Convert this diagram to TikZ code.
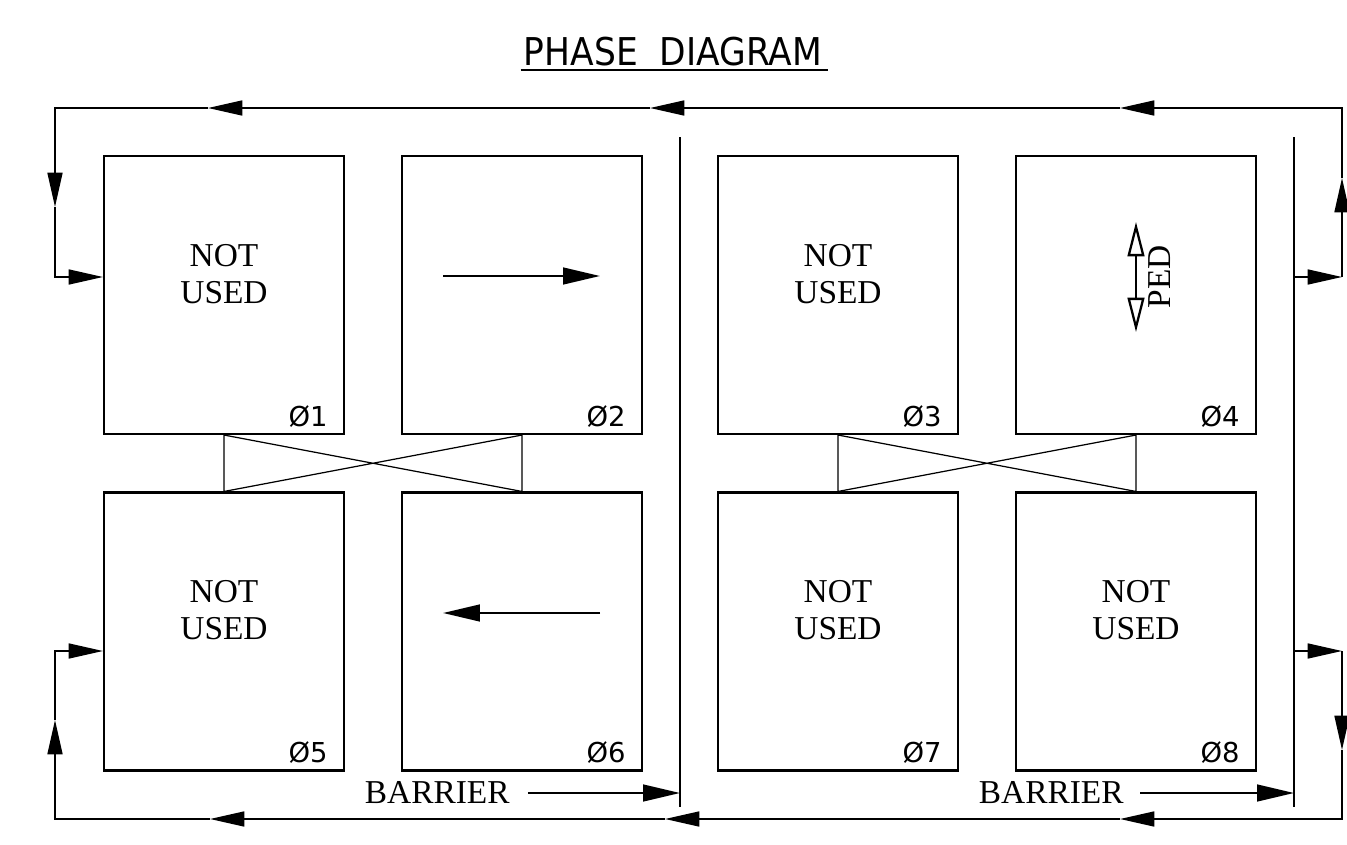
\documentclass[tikz,border=0pt]{standalone}
\usepackage{fontspec}
\setmainfont{Liberation Serif}
\newfontfamily\phfont{DejaVu Sans}
\newfontfamily\titlefont[FakeStretch=0.9]{DejaVu Sans}
\usetikzlibrary{arrows.meta}
\tikzset{
    phase/.style={rectangle, draw, line width=1.2pt, minimum width=4.8cm, minimum height=5.56cm, inner sep=0pt},
    used/.style={anchor=north, align=center, inner sep=0pt, font=\fontsize{19}{21}\selectfont},
    num/.style={anchor=base east, inner sep=0pt, font=\phfont\fontsize{15.6}{18}\selectfont},
    flow/.style={-{Triangle[length=19.5pt, width=8.5pt]}, line width=1pt},
    move/.style={-{Triangle[length=21pt, width=9.5pt]}, line width=1.3pt},
    ped/.style={{Triangle[open, length=19.5pt, width=9.5pt]}-{Triangle[open, length=19.5pt, width=9.5pt]}, line width=1.3pt},
}

\begin{document}
\begin{tikzpicture}[x=0.02cm, y=-0.02cm]
        \useasboundingbox (0, 0) rectangle (1347, 845);

        \node[anchor=base, inner sep=0pt, font=\titlefont\fontsize{21.8}{24}\selectfont] at (673, 65) (title) {PHASE\ \ DIAGRAM};
        \draw[line width=1.4pt] ([yshift=-0.1cm, xshift=-0.06cm]title.base west) -- ([yshift=-0.1cm, xshift=0.12cm]title.base east);

        % phase boxes
        \node[phase] at (224, 295)   (p1) {};
        \node[phase] at (522, 295)   (p2) {};
        \node[phase] at (838, 295)   (p3) {};
        \node[phase] at (1136, 295)  (p4) {};
        \node[phase] at (224, 631.5) (p5) {};
        \node[phase] at (522, 631.5) (p6) {};
        \node[phase] at (838, 631.5) (p7) {};
        \node[phase] at (1136, 631.5) (p8) {};

        \node[used] at (224, 244)  (u1) {NOT\\USED};
        \node[used] at (838, 244)  (u3) {NOT\\USED};
        \node[used] at (224, 580)  (u5) {NOT\\USED};
        \node[used] at (838, 580)  (u7) {NOT\\USED};
        \node[used] at (1136, 580) (u8) {NOT\\USED};

        \node[num] at ([xshift=-0.34cm, yshift=0.18cm]p1.south east) (n1) {Ø1};
        \node[num] at ([xshift=-0.34cm, yshift=0.18cm]p2.south east) (n2) {Ø2};
        \node[num] at ([xshift=-0.34cm, yshift=0.18cm]p3.south east) (n3) {Ø3};
        \node[num] at ([xshift=-0.34cm, yshift=0.18cm]p4.south east) (n4) {Ø4};
        \node[num] at ([xshift=-0.34cm, yshift=0.18cm]p5.south east) (n5) {Ø5};
        \node[num] at ([xshift=-0.34cm, yshift=0.18cm]p6.south east) (n6) {Ø6};
        \node[num] at ([xshift=-0.34cm, yshift=0.18cm]p7.south east) (n7) {Ø7};
        \node[num] at ([xshift=-0.34cm, yshift=0.18cm]p8.south east) (n8) {Ø8};

        % movements
        \draw[move] ([shift={(-79,-19)}]p2.center) -- ([shift={(78,-19)}]p2.center);
        \draw[move] ([shift={(78,-18.5)}]p6.center) -- ([shift={(-79,-18.5)}]p6.center);
        \draw[ped] ([shift={(0,-73)}]p4.center) -- ([shift={(0,37)}]p4.center);
        \node[rotate=90, inner sep=0pt, font=\fontsize{19}{21}\selectfont] at ([shift={(24,-18)}]p4.center) (pd) {PED};

        % overlaps
        \draw[line width=0.7pt] (p1.south) -- (p5.north) -- (p2.south) -- (p6.north) -- (p1.south);
        \draw[line width=0.7pt] (p3.south) -- (p7.north) -- (p4.south) -- (p8.north) -- (p3.south);

        % barriers
        \coordinate (b1t) at (680, 137);
        \coordinate (b1b) at (680, 807);
        \coordinate (b2t) at (1294, 137);
        \coordinate (b2b) at (1294, 807);
        \draw[line width=1pt] (b1t) -- (b1b);
        \draw[line width=1pt] (b2t) -- (b2b);

        \node[anchor=east, inner sep=0pt, font=\fontsize{19}{21}\selectfont] at (510, 793)  (bar1) {BARRIER};
        \node[anchor=east, inner sep=0pt, font=\fontsize{19}{21}\selectfont] at (1124, 793) (bar2) {BARRIER};
        \draw[move] ([xshift=0.36cm]bar1.east) -- (bar1.east -| b1t);
        \draw[move] ([xshift=0.32cm]bar2.east) -- (bar2.east -| b2t);

        % ring 1
        \coordinate (r1) at (1294, 277);
        \coordinate (r2) at (1342, 277);
        \coordinate (tr) at (1342, 108);
        \coordinate (tl) at (55, 108);
        \coordinate (l1) at (55, 277);
        \draw[flow] (r1) -- (r2);
        \draw[flow] (r2) -- (1342, 178);
        \draw[flow] (1342, 178) -- (tr) -- (1120, 108);
        \draw[flow] (1120, 108) -- (650, 108);
        \draw[flow] (650, 108) -- (208, 108);
        \draw[flow] (208, 108) -- (tl) -- (55, 207);
        \draw[flow] (55, 207) -- (l1) -- (l1 -| p1.west);

        % ring 2
        \coordinate (r3) at (1294, 651);
        \coordinate (r4) at (1342, 651);
        \coordinate (br) at (1342, 819);
        \coordinate (bl) at (55, 819);
        \coordinate (l2) at (55, 651);
        \draw[flow] (r3) -- (r4);
        \draw[flow] (r4) -- (1342, 750);
        \draw[flow] (1342, 750) -- (br) -- (1120, 819);
        \draw[flow] (1120, 819) -- (665, 819);
        \draw[flow] (665, 819) -- (210, 819);
        \draw[flow] (210, 819) -- (bl) -- (55, 720);
        \draw[flow] (55, 720) -- (l2) -- (l2 -| p5.west);
    \end{tikzpicture}
\end{document}
